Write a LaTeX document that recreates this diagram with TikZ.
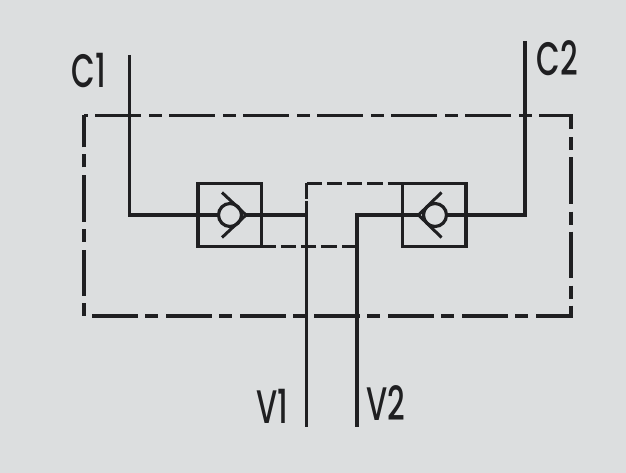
\documentclass[tikz,border=0pt]{standalone}
\usepackage{fontspec}
\setmainfont[UprightFont={* Medium}]{Poppins}
\definecolor{bgc}{HTML}{DCDEDF}
\definecolor{ink}{HTML}{1F1F21}
\tikzset{
  wire/.style={draw=ink,line width=3.5pt,line join=miter},
  pilot/.style={draw=ink,line width=3.5pt,dash pattern=on 15.3pt off 5pt},
  housing/.style={draw=ink,line width=3.5pt,dash pattern=on 46pt off 8pt on 13pt off 7pt,dash phase=63pt},
  valvebox/.style={draw=ink,line width=3.5pt,minimum width=63.5pt,minimum height=63pt,inner sep=0pt,fill=none},
  ball/.style={circle,draw=ink,line width=3.2pt,minimum size=23pt,inner sep=0pt},
  port/.style={text=ink,font=\fontsize{47}{47}\selectfont,inner sep=0pt,xscale=0.65,yscale=1},
}
\begin{document}
\begin{tikzpicture}[x=1pt,y=-1pt]
\path[use as bounding box,fill=bgc] (0,0) rectangle (626,473);
% housing
\coordinate (hTL) at (84,115.5);
\coordinate (hTR) at (571,115.5);
\coordinate (hBR) at (571,316);
\coordinate (hBL) at (84,316);
\draw[housing] (hTL) -- (hTR) -- (hBR) -- (hBL) -- cycle;
% valves
\node[valvebox] (vL) at (229.5,215) {};
\node[valvebox] (vR) at (434,215) {};
\node[ball] (bL) at (230,215) {};
\node[ball] (bR) at (435,215) {};
% chevrons
\coordinate (tipL) at (246,215);
\coordinate (tipR) at (418.5,215);
\draw[wire,line width=3pt] (222,192.5) -- (tipL) -- (222,237.5);
\draw[wire,line width=3pt] (441.5,192.5) -- (tipR) -- (441.5,237.5);
% free ends
\coordinate (c1) at (129.5,55);
\coordinate (c2) at (525,41);
\coordinate (v1) at (306.5,427);
\coordinate (v2) at (357,427);
\coordinate (jT) at (306.5,183.5);
\coordinate (jM) at (306.5,215);
\coordinate (jB) at (357,246.5);
% lines
\draw[wire] (c1) -- (c1 |- bL) -- (bL.west);
\draw[wire] (c2) -- (c2 |- bR) -- (bR.east);
\draw[wire] (tipL) -- (jM);
\draw[wire] (jM) -- (v1);
\draw[wire] (tipR) -- (357,215) -- (v2);
% pilot lines
\draw[pilot] (jT) -- (jT -| vR.west);
\draw[pilot,dash pattern=on 16pt off 2pt] (jT) -- (jM);
\draw[pilot] (jB) -- (jB -| vL.east);
% labels
\node[port] (lc1) at (89,71) {C1};
\node[port] (lc2) at (557,58) {C2};
\node[port] (lv1) at (272.5,406) {V1};
\node[port] (lv2) at (385.5,403) {V2};
\end{tikzpicture}
\end{document}
